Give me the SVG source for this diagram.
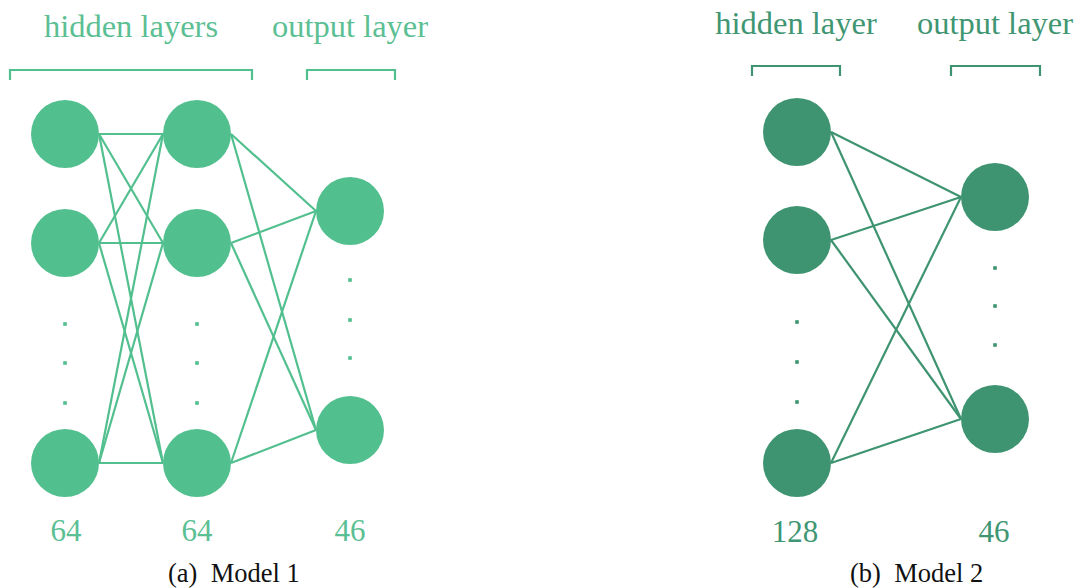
<svg xmlns="http://www.w3.org/2000/svg" width="1078" height="588" viewBox="0 0 1078 588">
  <style>
    .m1 { fill: #52bf8f; }
    .m2 { fill: #3e9470; }
    .e1 { stroke: #52bf8f; stroke-width: 2.2; fill: none; }
    .e2 { stroke: #3e9470; stroke-width: 2.2; fill: none; }
    text { font-family: 'Liberation Serif', 'Times New Roman', Times, serif; }
    .lbl { text-anchor: middle; }
    .hdr { font-size: 32.5px; }
    .num { font-size: 31px; }
    .t1 { fill: #5cbf94; }
    .t2 { fill: #3f9672; }
    .cap { font-size: 26.5px; fill: #111; }
  </style>
  <defs>
    <rect id="dot1" x="-1.8" y="-1.8" width="3.6" height="3.6" class="m1"/>
    <rect id="dot2" x="-1.8" y="-1.8" width="3.6" height="3.6" class="m2"/>
  </defs>
  <rect width="1078" height="588" fill="#fff"/>

  <!-- Model 1 -->
  <g id="model1-labels">
    <text class="lbl hdr t1" x="131" y="37">hidden layers</text>
    <text class="lbl hdr t1" x="350" y="37">output layer</text>
    <path class="e1" d="M10,80 V70 H252 V80"/>
    <path class="e1" d="M307,80 V70 H395 V80"/>
    <text class="lbl num t1" x="66" y="541">64</text>
    <text class="lbl num t1" x="197" y="541">64</text>
    <text class="lbl num t1" x="350" y="541">46</text>
  </g>

  <g id="model1-edges">
    <!-- hidden 1 -> hidden 2 -->
    <line class="e1" x1="99" y1="134" x2="163" y2="134"/>
    <line class="e1" x1="99" y1="134" x2="163" y2="243"/>
    <line class="e1" x1="99" y1="134" x2="163" y2="463"/>
    <line class="e1" x1="99" y1="243" x2="163" y2="134"/>
    <line class="e1" x1="99" y1="243" x2="163" y2="243"/>
    <line class="e1" x1="99" y1="243" x2="163" y2="463"/>
    <line class="e1" x1="99" y1="463" x2="163" y2="134"/>
    <line class="e1" x1="99" y1="463" x2="163" y2="243"/>
    <line class="e1" x1="99" y1="463" x2="163" y2="463"/>
    <!-- hidden 2 -> output -->
    <line class="e1" x1="231" y1="134" x2="316" y2="211"/>
    <line class="e1" x1="231" y1="134" x2="316" y2="430"/>
    <line class="e1" x1="231" y1="243" x2="316" y2="211"/>
    <line class="e1" x1="231" y1="243" x2="316" y2="430"/>
    <line class="e1" x1="231" y1="463" x2="316" y2="211"/>
    <line class="e1" x1="231" y1="463" x2="316" y2="430"/>
  </g>

  <g id="m1-h1">
    <circle class="m1" cx="65" cy="134" r="34"/>
    <circle class="m1" cx="65" cy="243" r="34"/>
    <use href="#dot1" x="65" y="324"/>
    <use href="#dot1" x="65" y="363"/>
    <use href="#dot1" x="65" y="403"/>
    <circle class="m1" cx="65" cy="463" r="34"/>
  </g>
  <g id="m1-h2">
    <circle class="m1" cx="197" cy="134" r="34"/>
    <circle class="m1" cx="197" cy="243" r="34"/>
    <use href="#dot1" x="197" y="324"/>
    <use href="#dot1" x="197" y="363"/>
    <use href="#dot1" x="197" y="403"/>
    <circle class="m1" cx="197" cy="463" r="34"/>
  </g>
  <g id="m1-out">
    <circle class="m1" cx="350" cy="211" r="34"/>
    <use href="#dot1" x="350" y="280"/>
    <use href="#dot1" x="350" y="320"/>
    <use href="#dot1" x="350" y="358"/>
    <circle class="m1" cx="350" cy="430" r="34"/>
  </g>
  <text id="cap-a" class="cap" x="168" y="582" xml:space="preserve">(a)  Model 1</text>

  <!-- Model 2 -->
  <g id="model2-labels">
    <text class="lbl hdr t2" x="796" y="34">hidden layer</text>
    <text class="lbl hdr t2" x="995" y="34">output layer</text>
    <path class="e2" d="M752,76 V66 H840 V76"/>
    <path class="e2" d="M951,76 V66 H1040 V76"/>
    <text class="lbl num t2" x="795" y="542">128</text>
    <text class="lbl num t2" x="994" y="542">46</text>
  </g>

  <g id="model2-edges">
    <line class="e2" x1="831" y1="132" x2="961" y2="197"/>
    <line class="e2" x1="831" y1="132" x2="961" y2="419"/>
    <line class="e2" x1="831" y1="240" x2="961" y2="197"/>
    <line class="e2" x1="831" y1="240" x2="961" y2="419"/>
    <line class="e2" x1="831" y1="463" x2="961" y2="197"/>
    <line class="e2" x1="831" y1="463" x2="961" y2="419"/>
  </g>

  <g id="m2-h">
    <circle class="m2" cx="797" cy="132" r="34"/>
    <circle class="m2" cx="797" cy="240" r="34"/>
    <use href="#dot2" x="797" y="322"/>
    <use href="#dot2" x="797" y="362"/>
    <use href="#dot2" x="797" y="402"/>
    <circle class="m2" cx="797" cy="463" r="34"/>
  </g>
  <g id="m2-out">
    <circle class="m2" cx="995" cy="197" r="34"/>
    <use href="#dot2" x="995" y="268"/>
    <use href="#dot2" x="995" y="306"/>
    <use href="#dot2" x="995" y="345"/>
    <circle class="m2" cx="995" cy="419" r="34"/>
  </g>
  <text id="cap-b" class="cap" x="850" y="582" xml:space="preserve">(b)  Model 2</text>
</svg>
